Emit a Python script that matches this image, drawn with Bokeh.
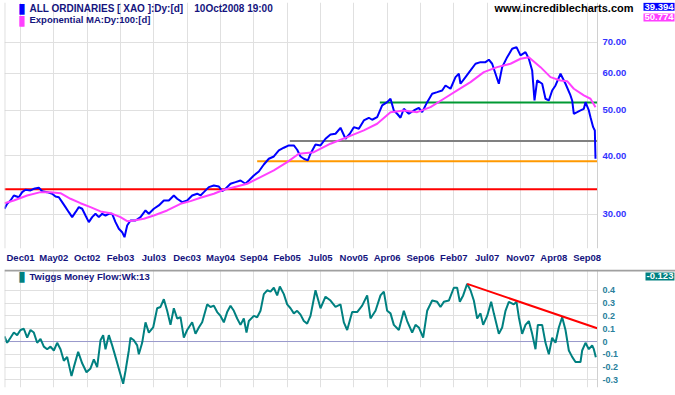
from bokeh.plotting import figure
from bokeh.layouts import column
from bokeh.models import FixedTicker, PrintfTickFormatter, Range1d, Label, Span, BoxAnnotation
from bokeh.embed import file_html
from bokeh.resources import INLINE

# ---------------- data ----------------
# x = trading-session index (label gridlines every 100 sessions)
month_ticks = [0, 100, 200, 300, 400, 500, 600, 700, 800, 900, 1000, 1100, 1200, 1300, 1400, 1500, 1600, 1700]
month_labels = ["Dec01", "May02", "Oct02", "Feb03", "Jul03", "Dec03", "May04", "Sep04", "Feb05",
                "Jul05", "Nov05", "Apr06", "Sep06", "Feb07", "Jul07", "Nov07", "Apr08", "Sep08"]

price_x = [-48, -40, -30, -20, -5, 5, 15, 30, 40, 55,
           65, 80, 95, 105, 115, 125, 135, 145, 155, 165,
           175, 185, 195, 205, 215, 225, 235, 245, 255, 265,
           275, 285, 295, 305, 312, 320, 330, 345, 360, 375,
           385, 400, 415, 430, 445, 460, 470, 485, 500, 515,
           530, 540, 550, 565, 580, 595, 605, 615, 630, 645,
           660, 675, 685, 700, 715, 730, 745, 760, 775, 790,
           805, 820, 830, 840, 850, 862, 870, 885, 900, 915,
           930, 945, 960, 975, 988, 1000, 1015, 1030, 1045, 1055,
           1070, 1085, 1100, 1110, 1120, 1130, 1140, 1150, 1165, 1180,
           1195, 1205, 1220, 1235, 1250, 1265, 1275, 1290, 1305, 1315,
           1320, 1335, 1350, 1365, 1380, 1395, 1405, 1415, 1425, 1435,
           1445, 1460, 1475, 1488, 1500, 1515, 1525, 1535, 1542, 1550,
           1565, 1575, 1585, 1595, 1605, 1620, 1635, 1650, 1655, 1660,
           1670, 1680, 1690, 1695, 1705, 1710, 1718, 1723, 1725]
price_close = [30.80, 31.56, 32.08, 32.88, 32.60, 33.42, 33.82, 33.70, 33.98, 34.15,
               33.58, 33.42, 33.16, 32.72, 32.60, 31.81, 31.04, 30.28, 29.55, 30.28,
               31.04, 30.80, 29.79, 28.83, 29.55, 30.04, 29.55, 30.04, 29.79, 30.04,
               30.04, 28.83, 27.90, 27.44, 26.77, 28.36, 29.07, 29.07, 29.55, 30.54,
               30.04, 30.80, 31.30, 32.08, 32.08, 32.88, 32.35, 31.81, 32.08, 32.88,
               33.16, 32.88, 33.42, 34.25, 34.54, 34.37, 33.58, 33.98, 34.83, 35.11,
               35.40, 34.83, 35.40, 36.28, 37.00, 38.30, 39.39, 39.84, 41.04, 41.59,
               42.06, 42.06, 41.18, 39.84, 39.39, 39.07, 40.38, 42.27, 42.06, 43.47,
               44.40, 44.56, 45.89, 43.47, 44.56, 46.03, 45.67, 47.57, 48.21, 47.74,
               48.35, 51.22, 52.06, 52.94, 49.97, 49.17, 48.21, 50.39, 49.17, 49.97,
               50.64, 49.56, 52.06, 54.26, 54.69, 55.15, 56.52, 55.61, 58.89, 59.88,
               57.00, 58.89, 60.86, 62.90, 63.40, 63.40, 64.16, 62.90, 59.88, 57.00,
               61.86, 64.98, 67.73, 68.26, 65.53, 66.60, 64.47, 60.86, 52.50, 57.94,
               57.00, 52.94, 52.50, 55.15, 56.52, 59.88, 57.00, 53.81, 52.50, 49.17,
               49.56, 49.97, 50.39, 52.06, 49.97, 48.35, 46.03, 45.29, 39.394]

ema_x = [-48, -20, 20, 60, 90, 120, 150, 180, 210, 240,
         270, 300, 320, 340, 370, 400, 440, 480, 510, 540,
         580, 610, 640, 680, 720, 760, 800, 835, 880, 930,
         980, 1030, 1070, 1110, 1150, 1190, 1230, 1270, 1310, 1350,
         1390, 1430, 1470, 1500, 1525, 1560, 1590, 1620, 1640, 1660,
         1690, 1710, 1725]
ema_100 = [31.65, 32.08, 32.88, 33.42, 33.42, 33.25, 32.35, 31.65, 31.04, 30.39,
           30.13, 29.55, 28.97, 29.07, 29.31, 29.79, 30.54, 31.56, 31.97, 32.51,
           33.16, 33.82, 34.25, 34.83, 35.98, 37.19, 38.74, 40.38, 40.70, 42.42,
           43.82, 45.29, 46.81, 49.56, 49.97, 49.56, 50.79, 52.94, 55.15, 57.45,
           60.35, 61.86, 62.90, 64.47, 64.98, 61.86, 58.89, 57.94, 57.74, 55.61,
           53.81, 52.94, 50.774]

tmf_x = [-48, -40, -30, -20, -10, 0, 10, 20, 30, 40,
         50, 60, 70, 80, 90, 100, 110, 120, 130, 140,
         153, 160, 173, 185, 198, 210, 220, 230, 240, 248,
         255, 265, 275, 285, 298, 308, 315, 325, 330, 340,
         350, 355, 365, 375, 385, 398, 410, 420, 430, 440,
         450, 460, 470, 480, 490, 500, 515, 525, 535, 545,
         560, 570, 580, 590, 600, 610, 620, 630, 640, 650,
         660, 670, 678, 685, 700, 710, 720, 730, 740, 750,
         760, 770, 778, 790, 800, 810, 820, 830, 840, 850,
         860, 870, 885, 900, 915, 930, 945, 960, 970, 980,
         995, 1010, 1025, 1040, 1050, 1065, 1080, 1090, 1100, 1110,
         1120, 1135, 1150, 1160, 1175, 1185, 1195, 1208, 1220, 1235,
         1250, 1260, 1270, 1285, 1300, 1310, 1318, 1328, 1340, 1350,
         1360, 1370, 1380, 1388, 1400, 1412, 1420, 1435, 1445, 1455,
         1465, 1480, 1488, 1495, 1505, 1515, 1525, 1535, 1545, 1552,
         1565, 1575, 1585, 1595, 1605, 1615, 1625, 1635, 1645, 1655,
         1665, 1680, 1685, 1695, 1705, 1715, 1720, 1726]
tmf_13 = [0.04, -0.01, 0.03, 0.07, 0.05, 0.09, 0.10, 0.03, 0.09, 0.07,
          -0.01, 0.02, -0.04, -0.06, -0.04, -0.07, -0.01, -0.06, -0.15, -0.12,
          -0.27, -0.20, -0.08, -0.17, -0.24, -0.21, -0.14, -0.20, 0.01, 0.05,
          -0.06, 0.05, -0.03, -0.12, -0.24, -0.33, -0.23, -0.07, 0.03, 0.01,
          -0.03, -0.10, -0.01, 0.15, 0.07, 0.11, 0.26, 0.27, 0.33, 0.24,
          0.13, 0.26, 0.18, 0.19, 0.03, 0.09, 0.15, 0.06, 0.11, 0.15,
          0.29, 0.27, 0.28, 0.23, 0.20, 0.15, 0.23, 0.28, 0.24, 0.18,
          0.13, 0.18, 0.07, 0.16, 0.20, 0.19, 0.24, 0.37, 0.40, 0.39,
          0.42, 0.36, 0.43, 0.37, 0.29, 0.26, 0.22, 0.24, 0.21, 0.16,
          0.14, 0.20, 0.40, 0.26, 0.35, 0.32, 0.27, 0.29, 0.15, 0.09,
          0.23, 0.23, 0.28, 0.36, 0.18, 0.24, 0.36, 0.39, 0.24, 0.22,
          0.13, 0.09, 0.24, 0.16, 0.07, 0.13, 0.11, 0.03, 0.24, 0.32,
          0.31, 0.27, 0.31, 0.32, 0.42, 0.42, 0.31, 0.36, 0.45, 0.40,
          0.32, 0.18, 0.22, 0.13, 0.20, 0.31, 0.22, 0.06, 0.11, 0.24,
          0.31, 0.29, 0.31, 0.19, 0.06, 0.13, 0.16, 0.06, -0.06, 0.13,
          0.13, -0.01, -0.10, 0.03, -0.01, 0.11, 0.19, 0.09, -0.07, -0.12,
          -0.16, -0.16, -0.07, -0.01, -0.06, -0.03, -0.06, -0.123]

# horizontal support / resistance levels and where they start
level_values = [33.9, 38.9, 43.0, 52.0]
level_start = [-48, 710, 808, 1078]
# money-flow declining trendline
trend_x = [1340, 1730]
trend_y = [0.45, 0.104]

price_ticks = [30, 40, 50, 60, 70]
tmf_ticks = [-0.3, -0.2, -0.1, 0, 0.1, 0.2, 0.3, 0.4]
tmf_tick_labels = ["-0.3", "-0.2", "-0.1", "0", "0.1", "0.2", "0.3", "0.4"]

# ---------------- styles / layout ----------------
X0, X1, XR = -48, 1731, 1965      # XR: right edge of canvas (margin for labels)
Y1_BOT, Y1_TOP = 25.32, 85.05
Y2_BOT, Y2_TOP = -0.359, 0.5625
BOT_FRAME_H = 118
level_colors = ["#ff0000", "#ff9900", "#808080", "#009933"]
GRID = "#e0e0e0"
BORDER = "#d0d0d0"
NAVY = "#14147e"
FONT = "Liberation Sans"
W = 675


def style_axis(ax, size, color):
    ax.axis_line_color = None
    ax.major_tick_line_color = None
    ax.minor_tick_line_color = None
    ax.major_tick_out = 0
    ax.major_tick_in = 0
    ax.major_label_text_font = FONT
    ax.major_label_text_font_style = "bold"
    ax.major_label_text_font_size = size
    ax.major_label_text_color = color


p = figure(width=W, height=269, x_range=Range1d(X0, XR), y_range=Range1d(Y1_BOT, Y1_TOP),
           y_axis_type="log", y_axis_location="right",
           output_backend="svg", toolbar_location=None,
           min_border_left=4, min_border_right=0, min_border_top=2, min_border_bottom=21)
p.outline_line_color = None
p.xgrid.grid_line_color = GRID
p.ygrid.grid_line_color = GRID
p.xaxis.ticker = FixedTicker(ticks=month_ticks)
p.xaxis.major_label_overrides = {t: l for t, l in zip(month_ticks, month_labels)}
style_axis(p.xaxis[0], "9.5px", NAVY)
p.xaxis.major_label_standoff = 3
p.yaxis.ticker = FixedTicker(ticks=price_ticks)
p.yaxis.formatter = PrintfTickFormatter(format="%.2f")
p.yaxis.fixed_location = X1
style_axis(p.yaxis[0], "9.5px", "#3333ff")
p.yaxis.major_label_standoff = 5

# blank margin right of the plotting area, plus panel borders
p.add_layout(BoxAnnotation(left=X1, fill_color="white", fill_alpha=1, line_color=None, level="glyph"))
p.add_layout(Span(location=X1, dimension="height", line_color=BORDER, line_width=1))
p.add_layout(Span(location=X0 + 1, dimension="height", line_color=BORDER, line_width=1))

for lv, st, col in zip(level_values, level_start, level_colors):
    p.line([st, X1], [lv, lv], line_color=col, line_width=2)

p.line(price_x, price_close, line_color="#0000ff", line_width=2)
p.line(ema_x, ema_100, line_color="#ff40ff", line_width=2)

# legend-like labels
p.add_layout(Label(x=4.5, y=82.6, text="\u25ae", text_color="#0000ff", text_font="DejaVu Sans",
                   text_font_size="14px", text_align="center", text_baseline="middle"))
p.add_layout(Label(x=4.5, y=78.2, text="\u25ae", text_color="#ff40ff", text_font="DejaVu Sans",
                   text_font_size="14px", text_align="center", text_baseline="middle"))
p.add_layout(Label(x=27, y=82.6,
                   text="ALL ORDINARIES [ XAO ]:Dy:[d]\u00a0\u00a0\u00a0\u00a010Oct2008 19:00",
                   text_color=NAVY, text_font=FONT, text_font_style="bold",
                   text_font_size="10px", text_baseline="middle"))
p.add_layout(Label(x=27, y=78.2, text="Exponential MA:Dy:100:[d]",
                   text_color=NAVY, text_font=FONT, text_font_style="bold",
                   text_font_size="9.5px", text_baseline="middle"))
p.add_layout(Label(x=1839, y=82.6, text="www.incrediblecharts.com", text_color="#000000",
                   text_font=FONT, text_font_style="bold", text_font_size="11px",
                   text_align="right", text_baseline="middle"))
p.add_layout(Label(x=1869, y=83.3, text=f"{price_close[-1]:.3f}", text_color="white",
                   text_font=FONT, text_font_style="bold", text_font_size="9.5px",
                   text_baseline="middle", background_fill_color="#0000ff", padding=1))
p.add_layout(Label(x=1869, y=79.0, text=f"{ema_100[-1]:.3f}", text_color="white",
                   text_font=FONT, text_font_style="bold", text_font_size="9.5px",
                   text_baseline="middle", background_fill_color="#ff40ff", padding=1))

# ---------------- lower panel ----------------
p2 = figure(width=W, height=126, x_range=p.x_range, y_range=Range1d(Y2_BOT, Y2_TOP),
            y_axis_location="right", output_backend="svg", toolbar_location=None,
            min_border_left=4, min_border_right=0, min_border_top=0, min_border_bottom=8)
p2.outline_line_color = None
p2.xaxis.visible = False
p2.xgrid.ticker = FixedTicker(ticks=month_ticks)
p2.xgrid.grid_line_color = GRID
p2.ygrid.grid_line_color = GRID
p2.yaxis.ticker = FixedTicker(ticks=tmf_ticks)
p2.yaxis.major_label_overrides = {t: l for t, l in zip(tmf_ticks, tmf_tick_labels)}
p2.yaxis.fixed_location = X1
style_axis(p2.yaxis[0], "9px", "#2a7f9c")
p2.yaxis.major_label_standoff = 5

p2.add_layout(BoxAnnotation(left=X1, fill_color="white", fill_alpha=1, line_color=None, level="glyph"))
p2.add_layout(Span(location=X1, dimension="height", line_color=BORDER, line_width=1))
p2.add_layout(Span(location=X0 + 1, dimension="height", line_color=BORDER, line_width=1))
# separator bar along the top of the panel
sep = 2 * (Y2_TOP - Y2_BOT) / BOT_FRAME_H
p2.add_layout(BoxAnnotation(bottom=Y2_TOP - sep, top=Y2_TOP, left=X0, right=XR,
                            fill_color="#a0a0a0", fill_alpha=1, line_color=None))

# zero reference line across the data span
p2.line([X0, X1], [0, 0], line_color="#9999cc", line_width=1)
p2.line(tmf_x, tmf_13, line_color="#008080", line_width=2)
p2.line(trend_x, trend_y, line_color="#ff0000", line_width=2)

p2.add_layout(Label(x=4.5, y=0.508, text="\u25ae", text_color="#008080", text_font="DejaVu Sans",
                    text_font_size="14px", text_align="center", text_baseline="middle"))
p2.add_layout(Label(x=27, y=0.508, text="Twiggs Money Flow:Wk:13",
                    text_color=NAVY, text_font=FONT, text_font_style="bold",
                    text_font_size="9.5px", text_baseline="middle"))
p2.add_layout(Label(x=1875, y=0.508, text=f"{tmf_13[-1]:.3f}", text_color="white",
                    text_font=FONT, text_font_style="bold", text_font_size="9.5px",
                    text_baseline="middle", background_fill_color="#008080", padding=1))

layout = column(p, p2, spacing=0)
open("out.html", "w").write(file_html(layout, INLINE))
